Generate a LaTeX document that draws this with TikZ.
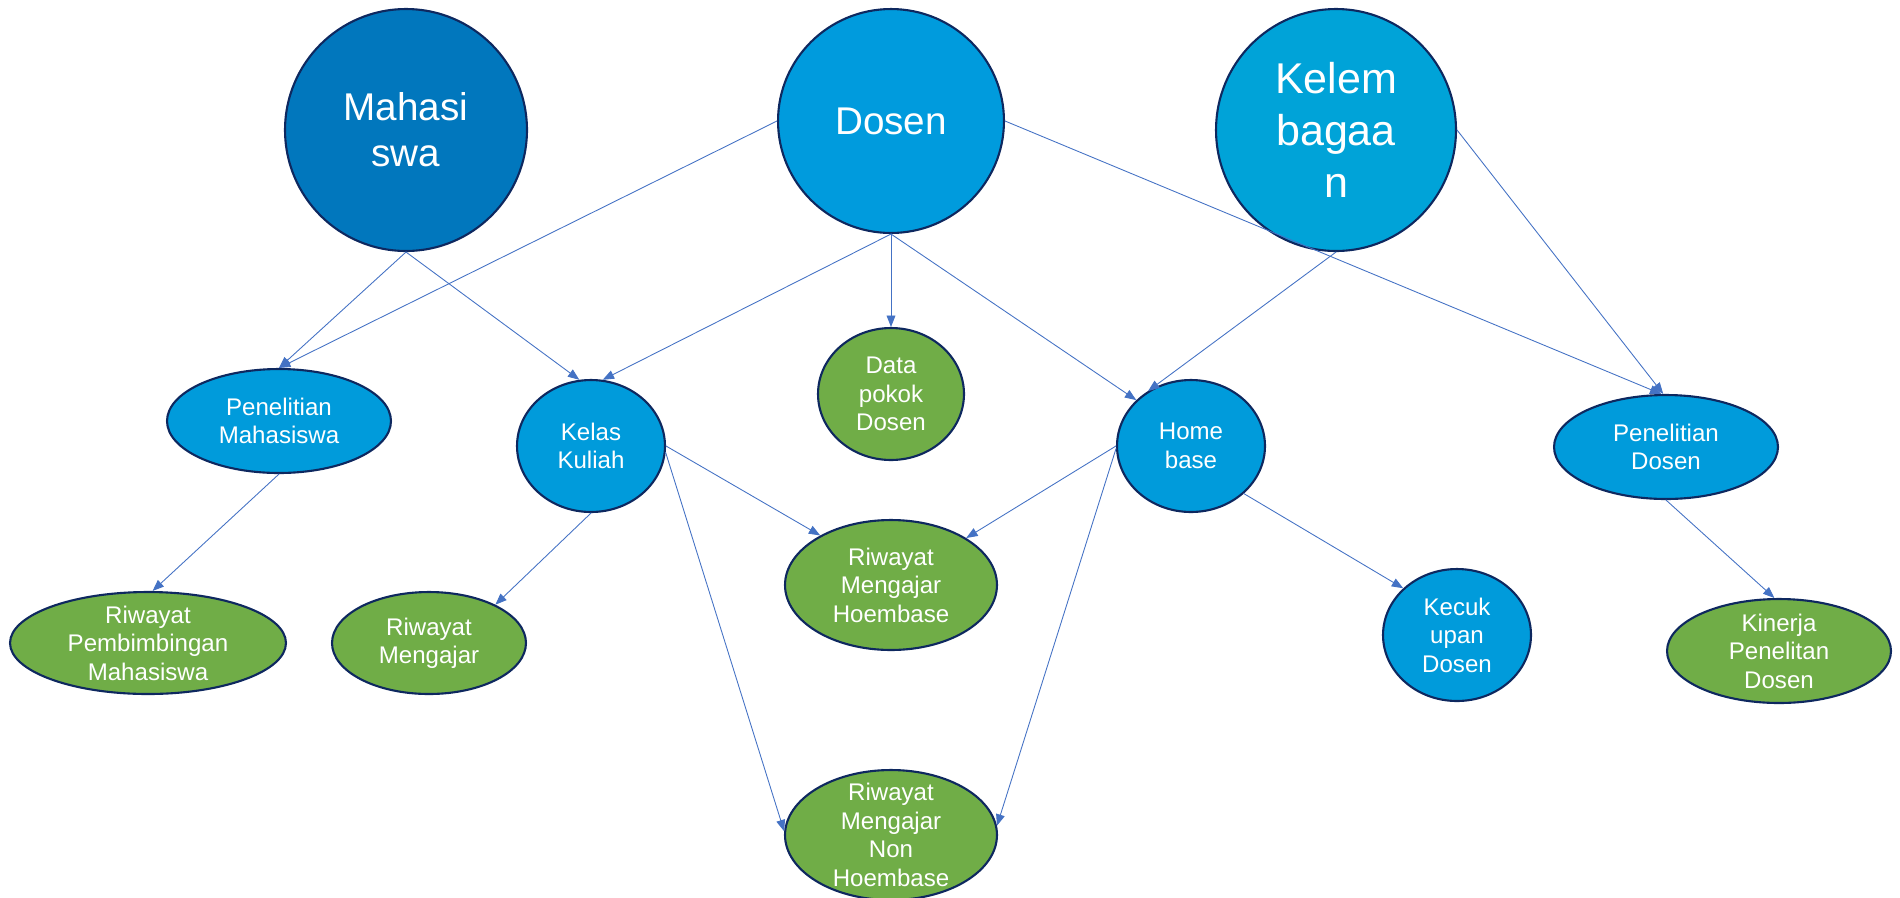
\documentclass[tikz,border=0pt]{standalone}
\usepackage{fontspec}
\setmainfont{Liberation Sans}
\usetikzlibrary{arrows.meta,shapes.geometric}
\definecolor{mhsblue}{RGB}{1,119,189}
\definecolor{dsnblue}{RGB}{0,155,221}
\definecolor{lmbblue}{RGB}{0,163,216}
\definecolor{tblblue}{RGB}{0,155,219}
\definecolor{tblgreen}{RGB}{112,173,71}
\definecolor{rim}{RGB}{14,40,95}
\definecolor{linkblue}{RGB}{68,114,196}

\begin{document}
\begin{tikzpicture}[line cap=round,line join=round,>={Triangle[length=6.5pt,width=5pt]},x=0.02cm,y=-0.02cm,
  entity/.style={ellipse,draw=rim,line width=1.2pt,text=white,inner sep=-6pt,align=center},
  big/.style={entity,font=\fontsize{22}{26.2}\selectfont},
  small/.style={entity,font=\fontsize{13.7}{16.2}\selectfont},
  blueent/.style={small,fill=tblblue},
  greenent/.style={small,fill=tblgreen},
  link/.style={->,draw=linkblue,line width=0.5pt}]
	\clip (0,0) rectangle (1900,897);
	\node[big,fill=mhsblue,minimum width=4.84cm,minimum height=4.84cm] (mhs) at (406,130) {Mahasi\\swa};
	\node[big,fill=dsnblue,minimum width=4.52cm,minimum height=4.48cm] (dsn) at (891,121) {Dosen};
	\node[big,fill=lmbblue,minimum width=4.80cm,minimum height=4.84cm,font=\fontsize{24.5}{29.6}\selectfont] (lmb) at (1336,130) {Kelem\\bagaa\\n};
	\node[blueent,minimum width=4.48cm,minimum height=2.08cm] (penmhs) at (279,421) {Penelitian\\Mahasiswa};
	\node[blueent,minimum width=2.96cm,minimum height=2.64cm] (kls) at (591,446) {Kelas\\Kuliah};
	\node[greenent,minimum width=2.92cm,minimum height=2.64cm] (dpk) at (891,394) {Data\\pokok\\Dosen};
	\node[blueent,minimum width=2.96cm,minimum height=2.64cm] (home) at (1191,446) {Home\\base};
	\node[blueent,minimum width=4.48cm,minimum height=2.08cm] (pends) at (1666,447) {Penelitian\\Dosen};
	\node[greenent,minimum width=5.52cm,minimum height=2.04cm] (rpm) at (148,643) {Riwayat\\Pembimbingan\\Mahasiswa};
	\node[greenent,minimum width=3.88cm,minimum height=2.04cm] (rmj) at (429,643) {Riwayat\\Mengajar};
	\node[greenent,minimum width=4.24cm,minimum height=2.60cm] (rmh) at (891,585) {Riwayat\\Mengajar\\Hoembase};
	\node[greenent,minimum width=4.24cm,minimum height=2.60cm] (rmnh) at (891,835) {Riwayat\\Mengajar\\Non\\Hoembase};
	\node[blueent,minimum width=2.96cm,minimum height=2.64cm] (kec) at (1457,635) {Kecuk\\upan\\Dosen};
	\node[greenent,minimum width=4.48cm,minimum height=2.08cm] (kin) at (1779,651) {Kinerja\\Penelitan\\Dosen};
	\draw[link] (mhs.south) -- (penmhs.north);
	\draw[link] (dsn.west) -- (penmhs.north);
	\draw[link] (mhs.south) -- (kls.100);
	\draw[link] (dsn.south) -- (kls.80);
	\draw[link] (dsn.south) -- (dpk.north);
	\draw[link] (dsn.south) -- (home.140);
	\draw[link] (lmb.south) -- (home.128);
	\draw[link] (dsn.east) -- (pends.95);
	\draw[link] (lmb.east) -- (pends.93);
	\draw[link] (penmhs.south) -- (rpm.85);
	\draw[link] (kls.south) -- (rmj.30);
	\draw[link] (kls.east) -- (rmh.145);
	\draw[link] (kls.-5) -- (rmnh.178);
	\draw[link] (home.west) -- (rmh.32);
	\draw[link] (home.-178) -- (rmnh.5);
	\draw[link] (home.-42) -- (kec.139);
	\draw[link] (pends.south) -- (kin.95);
\end{tikzpicture}
\end{document}
